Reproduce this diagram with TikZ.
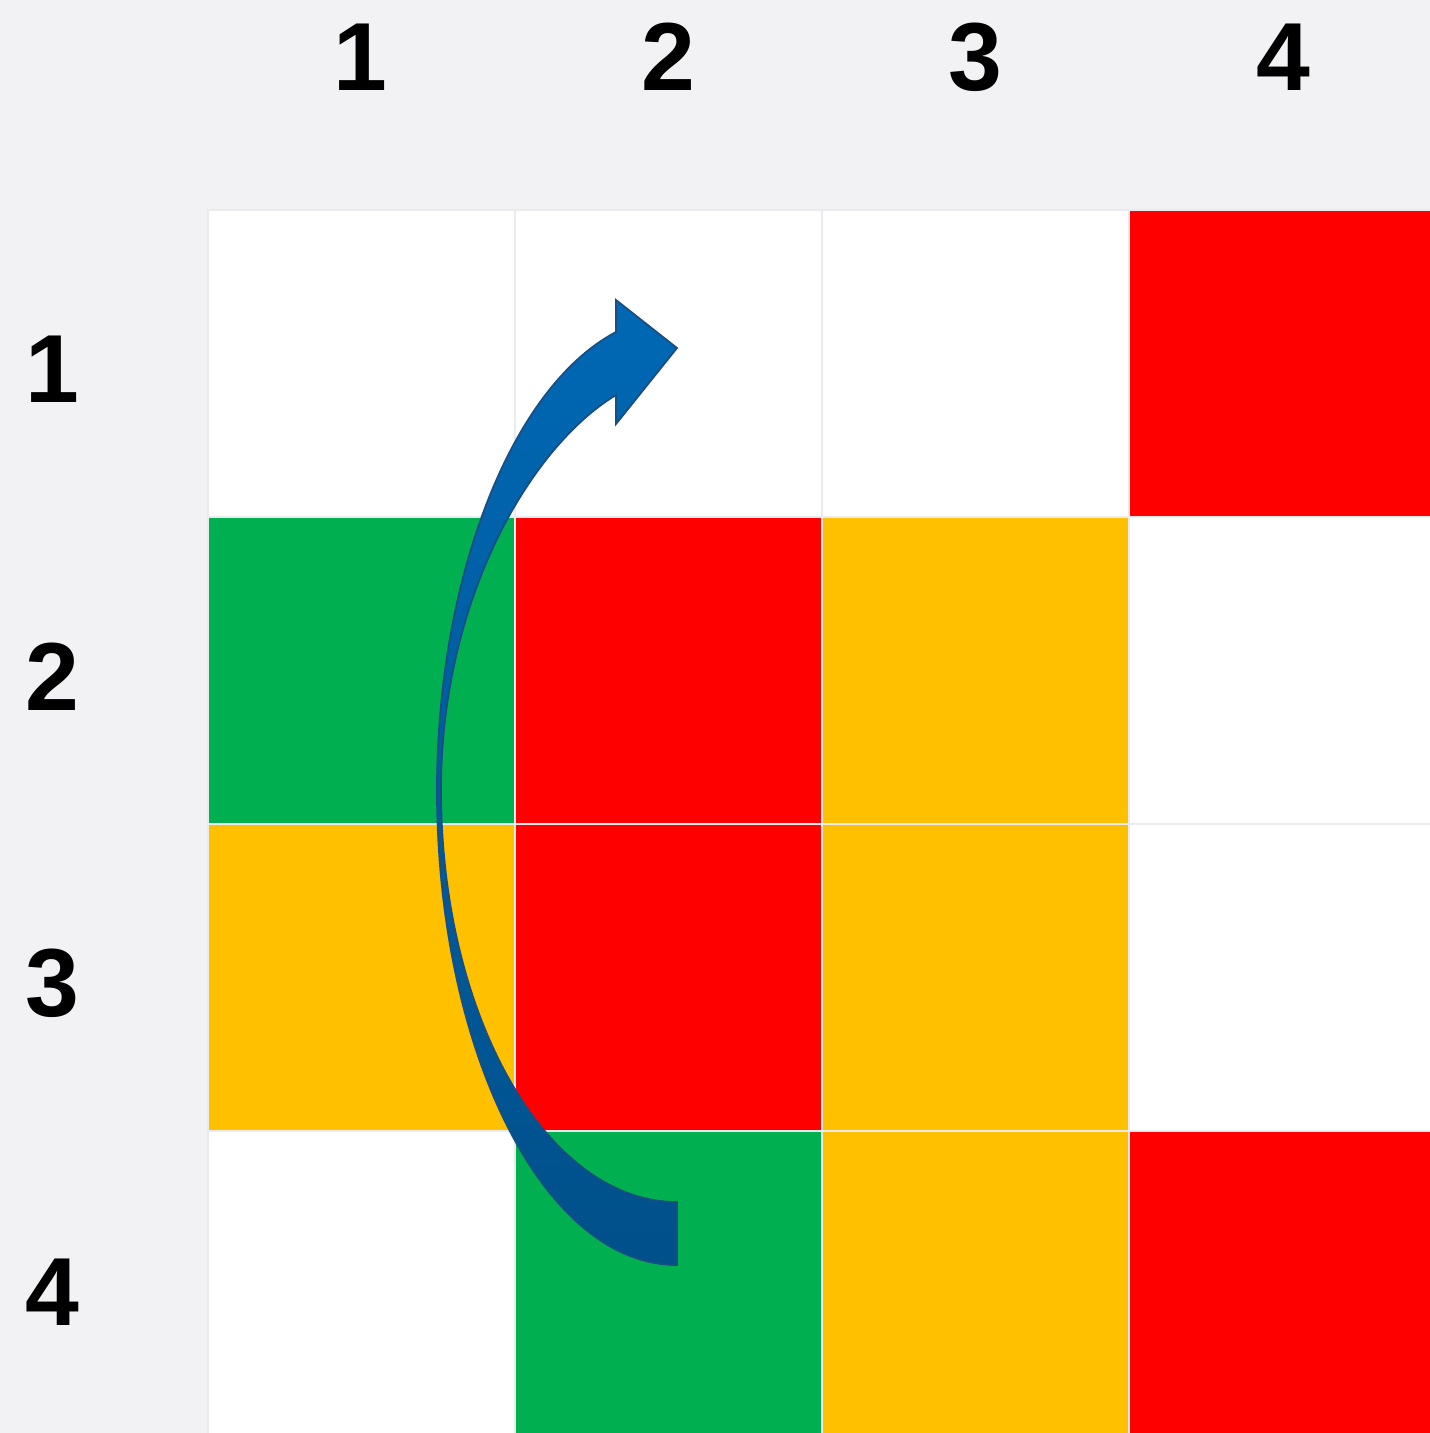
\documentclass[tikz,border=0pt]{standalone}
\usepackage{fontspec}
\setmainfont{Liberation Sans}
\usetikzlibrary{arrows.meta}

\definecolor{pagegray}{RGB}{242,242,244}
\definecolor{gridline}{RGB}{235,235,237}
\definecolor{cellred}{RGB}{255,0,0}
\definecolor{cellgreen}{RGB}{0,176,80}
\definecolor{cellyellow}{RGB}{255,192,0}
\definecolor{cellwhite}{RGB}{255,255,255}
\definecolor{arrowtop}{RGB}{0,104,180}
\definecolor{arrowbottom}{RGB}{0,80,138}
\definecolor{arrowline}{RGB}{25,78,130}

\begin{document}
\begin{tikzpicture}[
    x=0.01cm, y=-0.01cm,
    every node/.style={font=\fontsize{27.5}{30}\selectfont\bfseries},
    cellbox/.style={draw=gridline, line width=0.6pt, rectangle, minimum size=3.07cm, inner sep=0pt},
    headlabel/.style={inner sep=0pt, anchor=center},
    blockarrow/.style={top color=arrowtop, bottom color=arrowbottom, draw=arrowline, line width=0.5pt, line join=miter}
]

    % --------------------------------------------------------
    % 0. PAGE AND BACKGROUND
    % --------------------------------------------------------
    \useasboundingbox (0,0) rectangle (1430,1433);
    \fill[pagegray] (0,0) rectangle (1430,1433);
    \clip (0,0) rectangle (1430,1433);

    % --------------------------------------------------------
    % 1. GRID OF CELLS (row / column / colour)
    % --------------------------------------------------------
    \foreach \r/\c/\col in {
        1/1/cellwhite, 1/2/cellwhite, 1/3/cellwhite, 1/4/cellred,
        2/1/cellgreen, 2/2/cellred, 2/3/cellyellow, 2/4/cellwhite,
        3/1/cellyellow, 3/2/cellred, 3/3/cellyellow, 3/4/cellwhite,
        4/1/cellwhite, 4/2/cellgreen, 4/3/cellyellow, 4/4/cellred}
    {
        \node (cell-\r-\c) [cellbox, fill=\col] at ({208+307*(\c-1)+153.5}, {210+307*(\r-1)+153.5}) {};
    }

    % --------------------------------------------------------
    % 2. COLUMN AND ROW LABELS
    % --------------------------------------------------------
    \foreach \c/\x in {1/360, 2/668, 3/975, 4/1283}
    {
        \node (col-\c) [headlabel] at (\x, 57) {\c};
    }
    \foreach \r/\y in {1/369, 2/677, 3/983, 4/1292}
    {
        \node (row-\r) [headlabel] at (52, \y) {\r};
    }

    % --------------------------------------------------------
    % 3. CURVED BLOCK ARROW (from row 4 up to row 1)
    % --------------------------------------------------------
    \draw [blockarrow]
        (677,1265) .. controls (544,1265) and (437,1052) .. (437,790)
        .. controls (437,580) and (510,388) .. (616,332)
        -- (616,300) -- (677,348) -- (616,424) -- (616,395)
        .. controls (530,447) and (441,600) .. (441,790)
        .. controls (441,1017) and (547,1202) .. (677,1202)
        -- cycle;

\end{tikzpicture}
\end{document}
